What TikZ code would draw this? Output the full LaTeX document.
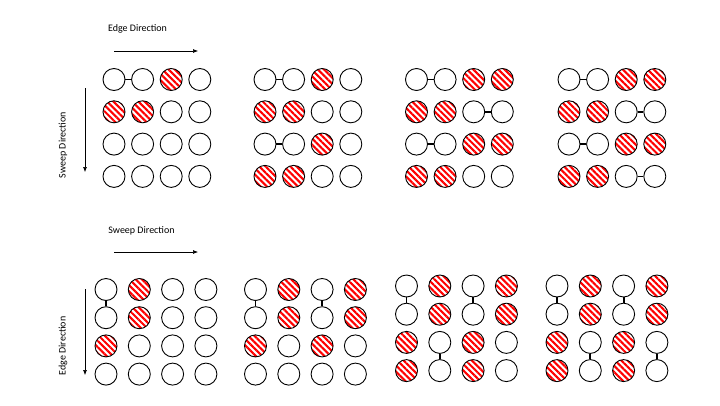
\documentclass[tikz,border=0pt]{standalone}
\usepackage{fontspec}
\setmainfont{Carlito}
\usetikzlibrary{patterns.meta,arrows.meta}
\tikzset{
  dot/.style={circle, draw=black, line width=0.9pt, minimum size=22pt, inner sep=0pt},
  hat/.style={dot, pattern={Lines[angle=-45,distance=4.4pt,line width=2.1pt]}, pattern color=red},
  link/.style={line width=1.8pt, black},
  dirarrow/.style={-{Latex[length=5pt,width=4pt]}, line width=0.6pt},
  lbl/.style={font=\fontsize{10}{12}\selectfont, inner sep=0pt}
}
\newcommand\mycell[4]{\ifnum#1=1 \node[hat] (#2) at (#3,#4) {};\else \node[dot] (#2) at (#3,#4) {};\fi}
\begin{document}
\begin{tikzpicture}[x=1pt,y=-1pt]
\useasboundingbox (0,0) rectangle (720,405);
% top panels: rows
\foreach \p/\xo/\r/\sa/\sb/\sc/\sd in {
 1/114/1/0/0/1/0, 1/114/2/1/1/0/0, 1/114/3/0/0/0/0, 1/114/4/0/0/0/0,
 2/265/1/0/0/1/0, 2/265/2/1/1/0/0, 2/265/3/0/0/1/0, 2/265/4/1/1/0/0,
 3/416.5/1/0/0/1/1, 3/416.5/2/1/1/0/0, 3/416.5/3/0/0/1/1, 3/416.5/4/1/1/0/0,
 4/569/1/0/0/1/1, 4/569/2/1/1/0/0, 4/569/3/0/0/1/1, 4/569/4/1/1/0/0}{
  \pgfmathsetmacro\yy{79.5+32.3*(\r-1)}
  \pgfmathsetmacro\xa{\xo}
  \pgfmathsetmacro\xb{\xo+28.6}
  \pgfmathsetmacro\xc{\xo+57.2}
  \pgfmathsetmacro\xd{\xo+85.8}
  \mycell{\sa}{t\p-\r-1}{\xa}{\yy}
  \mycell{\sb}{t\p-\r-2}{\xb}{\yy}
  \mycell{\sc}{t\p-\r-3}{\xc}{\yy}
  \mycell{\sd}{t\p-\r-4}{\xd}{\yy}
}
\foreach \p/\r/\c/\d in {1/1/1/2, 2/1/1/2, 2/3/1/2, 3/1/1/2, 3/2/3/4, 3/3/1/2, 4/1/1/2, 4/2/3/4, 4/3/1/2, 4/4/3/4}
  \draw[link] (t\p-\r-\c) -- (t\p-\r-\d);
% bottom panels: columns
\foreach \p/\xo/\yo/\c/\sa/\sb/\sc/\sd in {
 1/106/289.5/1/0/0/1/0, 1/106/289.5/2/1/1/0/0, 1/106/289.5/3/0/0/0/0, 1/106/289.5/4/0/0/0/0,
 2/255.5/289.5/1/0/0/1/0, 2/255.5/289.5/2/1/1/0/0, 2/255.5/289.5/3/0/0/1/0, 2/255.5/289.5/4/1/1/0/0,
 3/406.5/286/1/0/0/1/1, 3/406.5/286/2/1/1/0/0, 3/406.5/286/3/0/0/1/1, 3/406.5/286/4/1/1/0/0,
 4/557/286/1/0/0/1/1, 4/557/286/2/1/1/0/0, 4/557/286/3/0/0/1/1, 4/557/286/4/1/1/0/0}{
  \pgfmathsetmacro\xx{\xo+33.3*(\c-1)}
  \pgfmathsetmacro\ya{\yo}
  \pgfmathsetmacro\yb{\yo+28.2}
  \pgfmathsetmacro\yc{\yo+56.4}
  \pgfmathsetmacro\yd{\yo+84.6}
  \mycell{\sa}{b\p-1-\c}{\xx}{\ya}
  \mycell{\sb}{b\p-2-\c}{\xx}{\yb}
  \mycell{\sc}{b\p-3-\c}{\xx}{\yc}
  \mycell{\sd}{b\p-4-\c}{\xx}{\yd}
}
\foreach \p/\c/\r/\s in {1/1/1/2, 2/1/1/2, 2/3/1/2, 3/1/1/2, 3/2/3/4, 3/3/1/2, 4/1/1/2, 4/2/3/4, 4/3/1/2, 4/4/3/4}
  \draw[link] (b\p-\r-\c) -- (b\p-\s-\c);
% labels and direction arrows
\node[lbl] (edgeT) at (137.5,29) {Edge Direction};
\coordinate (eTa) at (114,51); \coordinate (eTb) at (198,51);
\draw[dirarrow] (eTa) -- (eTb);
\node[lbl, rotate=90] (sweepT) at (63,145) {Sweep Direction};
\coordinate (sTa) at (85,88); \coordinate (sTb) at (85,172);
\draw[dirarrow] (sTa) -- (sTb);
\node[lbl] (sweepB) at (141.5,231) {Sweep Direction};
\coordinate (sBa) at (114,252); \coordinate (sBb) at (198,252);
\draw[dirarrow] (sBa) -- (sBb);
\node[lbl, rotate=90] (edgeB) at (63,346) {Edge Direction};
\coordinate (eBa) at (85,289); \coordinate (eBb) at (85,375);
\draw[dirarrow] (eBa) -- (eBb);
\end{tikzpicture}
\end{document}
